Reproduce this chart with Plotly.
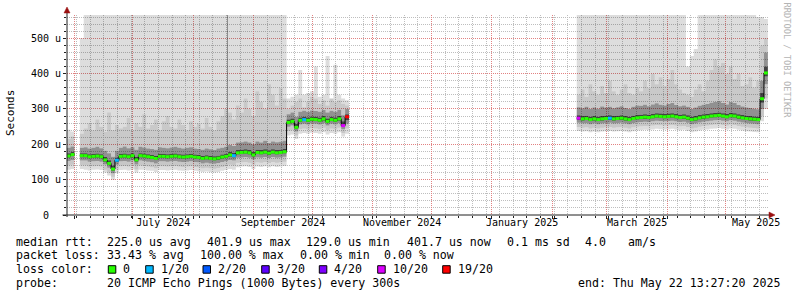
import plotly.graph_objects as go
import pandas as pd

MONO = "DejaVu Sans Mono"

# ---------------- data ----------------
# time axis window (12h RRA, 360 days)
X_START = "2024-05-28 04:00"
X_END = "2025-05-22 13:27:20"
STEP = "2D"
segment_starts = ["2024-05-28 00:00", "2024-06-03 18:00", "2025-02-13 12:00"]

# median rtt in microseconds (None separates data segments)
median = [167, 171, None,
          168, 168, 165, 166, 167, 165, 156, 146, 130, 155, 166, 167, 165, 168, 156, 168, 167, 165, 163, 160,
          166, 166, 165, 166, 167, 165, 164, 165, 166, 164, 163, 160, 162, 160, 159, 161, 164, 166, 170, 168,
          176, 177, 178, 176, 170, 177, 176, 178, 175, 178, 176, 177, 179, 262, 265, 248, 268, 270, 268, 271,
          270, 268, 272, 265, 270, 268, 272, 253, 278, None,
          274, 272, 273, 270, 272, 270, 272, 273, 274, 272, 273, 274, 272, 270, 273, 275, 276, 277, 276, 278,
          280, 279, 278, 279, 280, 278, 276, 277, 274, 270, 272, 275, 277, 278, 280, 281, 282, 280, 278, 281,
          280, 277, 275, 273, 272, 271, 270, 329, 402]

# lost pings out of 20
loss = [0, 0, None,
        0, 0, 0, 0, 0, 0, 0, 0, 0, 1, 0, 0, 0, 0, 0, 0, 0, 0, 0, 0,
        0, 0, 0, 0, 0, 0, 0, 0, 0, 0, 0, 0, 0, 0, 0, 0, 0, 0, 0, 1,
        0, 0, 0, 0, 0, 0, 0, 0, 0, 0, 0, 0, 0, 0, 0, 0, 0, 1, 0, 0,
        0, 0, 0, 0, 0, 0, 0, 10, 19, None,
        10, 0, 0, 0, 0, 0, 0, 0, 1, 0, 0, 0, 0, 0, 0, 0, 0, 0, 0, 0,
        0, 0, 0, 0, 0, 0, 0, 0, 0, 0, 0, 0, 0, 0, 0, 0, 0, 0, 0, 0,
        0, 0, 0, 0, 0, 0, 0, 0, 0]

# smoke: sorted ping rtts (microseconds)
ping_01 = [128, 130, None,
           130, 128, 126, 128, 129, 127, 120, 112, 100, 118, 127, 128, 126, 129, 120, 128, 128, 126, 125, 122,
           127, 127, 126, 127, 128, 126, 125, 126, 127, 125, 124, 122, 123, 121, 120, 122, 125, 127, 130, 128,
           135, 137, 138, 136, 130, 137, 136, 138, 135, 138, 136, 137, 139, 225, 228, 215, 230, 232, 230, 233,
           232, 230, 234, 228, 232, 230, 234, 222, 230, None,
           238, 236, 237, 234, 236, 234, 236, 237, 238, 236, 237, 238, 236, 234, 237, 239, 240, 241, 240, 242,
           244, 243, 242, 243, 244, 242, 240, 241, 238, 234, 236, 239, 241, 242, 244, 245, 246, 244, 242, 245,
           244, 241, 239, 237, 236, 235, 234, 265, 300]
ping_02 = [140, 142, None,
           140, 140, 137, 138, 139, 137, 128, 120, 108, 128, 138, 139, 137, 140, 129, 140, 139, 137, 135, 132,
           138, 138, 137, 138, 139, 137, 136, 137, 138, 136, 135, 132, 134, 132, 131, 133, 136, 138, 142, 140,
           148, 149, 150, 148, 142, 149, 148, 150, 147, 150, 148, 149, 151, 238, 240, 225, 243, 245, 243, 246,
           245, 243, 247, 240, 245, 243, 247, 232, 245, None,
           249, 247, 248, 245, 247, 245, 247, 248, 249, 247, 248, 249, 247, 245, 248, 250, 251, 252, 251, 253,
           255, 254, 253, 254, 255, 253, 251, 252, 249, 245, 247, 250, 252, 253, 255, 256, 257, 255, 253, 256,
           255, 252, 250, 248, 247, 246, 245, 280, 330]
ping_05 = [153, 156, None,
           154, 154, 151, 152, 153, 151, 143, 134, 118, 142, 152, 153, 151, 154, 143, 154, 153, 151, 149, 146,
           152, 152, 151, 152, 153, 151, 150, 151, 152, 150, 149, 146, 148, 146, 145, 147, 150, 152, 156, 154,
           162, 163, 164, 162, 157, 163, 162, 164, 161, 164, 162, 163, 165, 250, 253, 236, 256, 258, 256, 259,
           258, 256, 260, 253, 258, 256, 260, 243, 258, None,
           261, 259, 260, 257, 259, 257, 259, 260, 261, 259, 260, 261, 259, 257, 260, 262, 263, 264, 263, 265,
           267, 266, 265, 266, 267, 265, 263, 264, 261, 257, 259, 262, 264, 265, 267, 268, 269, 267, 265, 268,
           267, 264, 262, 260, 259, 258, 257, 300, 370]
ping_08 = [162, 166, None,
           163, 163, 160, 161, 162, 160, 151, 141, 125, 150, 161, 162, 160, 163, 151, 163, 162, 160, 158, 155,
           161, 161, 160, 161, 162, 160, 159, 160, 161, 159, 158, 155, 157, 155, 154, 156, 159, 161, 165, 163,
           171, 172, 173, 171, 165, 172, 171, 173, 170, 173, 171, 172, 174, 257, 260, 243, 263, 265, 263, 266,
           265, 263, 267, 260, 265, 263, 267, 250, 268, None,
           269, 267, 268, 265, 267, 265, 267, 268, 269, 267, 268, 269, 267, 265, 268, 270, 271, 272, 271, 273,
           275, 274, 273, 274, 275, 273, 271, 272, 269, 265, 267, 270, 272, 273, 275, 276, 277, 275, 273, 276,
           275, 272, 270, 268, 267, 266, 265, 318, 392]
ping_13 = [175, 179, None,
           175, 175, 172, 173, 174, 172, 164, 155, 140, 163, 173, 174, 172, 175, 164, 175, 174, 172, 170, 167,
           173, 173, 172, 173, 174, 172, 171, 172, 173, 171, 170, 167, 169, 167, 166, 168, 171, 173, 178, 176,
           184, 185, 186, 184, 178, 185, 184, 186, 183, 186, 184, 185, 187, 270, 273, 258, 276, 278, 276, 279,
           278, 276, 280, 273, 278, 276, 280, 265, 285, None,
           282, 280, 281, 278, 280, 278, 280, 281, 282, 280, 281, 282, 280, 278, 281, 283, 284, 285, 284, 286,
           288, 287, 286, 287, 288, 286, 284, 285, 282, 278, 280, 283, 285, 286, 288, 289, 290, 288, 286, 289,
           288, 285, 283, 281, 280, 279, 278, 345, 420]
ping_16 = [190, 194, None,
           190, 192, 188, 190, 193, 189, 182, 175, 165, 182, 190, 194, 189, 192, 185, 193, 191, 188, 187, 185,
           192, 190, 189, 191, 193, 190, 188, 190, 192, 188, 187, 185, 188, 186, 184, 188, 190, 193, 198, 195,
           205, 206, 208, 205, 200, 208, 205, 210, 204, 208, 206, 207, 210, 285, 290, 278, 292, 295, 292, 296,
           294, 292, 297, 290, 295, 292, 298, 282, 300, None,
           305, 302, 306, 300, 304, 301, 307, 304, 306, 302, 305, 308, 303, 300, 306, 310, 309, 312, 308, 313,
           316, 312, 310, 314, 317, 311, 308, 310, 306, 300, 304, 309, 312, 314, 318, 320, 322, 317, 313, 320,
           317, 311, 307, 304, 303, 301, 299, 380, 460]
ping_19 = [215, 222, None,
           230, 245, 260, 240, 270, 250, 235, 290, 240, 255, 245, 250, 275, 240, 260, 250, 285, 245, 255, 270,
           240, 265, 280, 250, 245, 270, 255, 240, 265, 250, 260, 245, 275, 250, 240, 265, 280, 300, 290, 270,
           310, 290, 330, 300, 280, 350, 320, 300, 370, 340, 310, 360, 330, 300, 310, 320, 330, 305, 320, 335,
           330, 315, 325, 310, 330, 320, 325, 315, 310, None,
           340, 355, 335, 370, 350, 340, 365, 345, 380, 350, 340, 355, 370, 345, 340, 360, 350, 380, 360, 400,
           370, 390, 365, 385, 410, 370, 355, 345, 340, 335, 355, 370, 350, 380, 410, 440, 420, 430, 400, 420,
           385, 400, 365, 370, 390, 360, 380, 480, 500]
ping_20 = [241, 236, None,
           500] + [600] * 52 + [330, 335, 340, 410, 340, 345, 350, 420, 335, 340, 450, 330, 425, 340, 330, 325, None] + \
          [600] * 28 + [420, 450, 470] + [600] * 15 + [560, 560, 555]

# single 12h sample with a very wide spread
spike_time = ["2024-08-18 12:00"]
spike_low = [185]
spike_high = [600]

# axis labels
y_ticks = [0, 100, 200, 300, 400, 500]
y_labels = ["0\u00a0\u00a0", "100 u", "200 u", "300 u", "400 u", "500 u"]
month_label_dates = ["2024-07-16 12:00", "2024-09-16 00:00", "2024-11-16 00:00",
                     "2025-01-16 12:00", "2025-03-16 12:00", "2025-05-16 12:00"]
month_labels = ["July 2024", "September 2024", "November 2024", "January 2025", "March 2025", "May 2025"]

loss_levels = [0, 1, 2, 3, 4, 10, 19]
loss_names = ["0", "1/20", "2/20", "3/20", "4/20", "10/20", "19/20"]
loss_colors = ["#26ff00", "#00b8ff", "#0059ff", "#5e00ff", "#7e00ff", "#dd00ff", "#ff0000"]

# ---------------- helpers ----------------
def split(vals):
    segs, cur = [], []
    for v in vals:
        if v is None:
            segs.append(cur)
            cur = []
        else:
            cur.append(v)
    segs.append(cur)
    return segs


def loss_color(c):
    col = loss_colors[0]
    for lv, cc in zip(loss_levels, loss_colors):
        if c >= lv:
            col = cc
    return col


levels = [ping_01, ping_02, ping_05, ping_08, ping_13, ping_16, ping_19, ping_20]
band_colors = ["rgba(0,0,0,0.133)", "rgba(0,0,0,0.22)", "rgba(0,0,0,0.43)", "rgba(0,0,0,0.74)",
               "rgba(0,0,0,0.43)", "rgba(0,0,0,0.21)", "rgba(0,0,0,0.133)"]

fig = go.Figure()

level_segs = [split(l) for l in levels]
med_segs = split(median)
loss_segs = split(loss)

for s, start in enumerate(segment_starts):
    n = len(med_segs[s])
    dates = pd.date_range(start, periods=n + 1, freq=STEP)
    for k, lv in enumerate(level_segs):
        vals = lv[s] + [lv[s][-1]]
        tr = dict(x=dates, y=vals, mode="lines", line=dict(width=0, shape="hv"),
                  hoverinfo="skip", showlegend=False)
        if k > 0:
            tr.update(fill="tonexty", fillcolor=band_colors[k - 1])
        fig.add_trace(go.Scatter(**tr))

# wide-spread sample
fig.add_trace(go.Bar(x=pd.to_datetime(spike_time), y=[h - l for h, l in zip(spike_high, spike_low)],
                     base=spike_low, width=16 * 3600 * 1000,
                     marker=dict(color="rgba(0,0,0,0.36)", line=dict(width=0)),
                     hoverinfo="skip", showlegend=False))

# median: black step line + loss coloured bands
for s, start in enumerate(segment_starts):
    n = len(med_segs[s])
    dates = pd.date_range(start, periods=n + 1, freq=STEP)
    vals = med_segs[s]
    fig.add_trace(go.Scatter(x=dates, y=vals + [vals[-1]], mode="lines",
                             line=dict(color="#000000", width=1, shape="hv"),
                             hoverinfo="skip", showlegend=False))
    by_col = {}
    for i in range(n):
        col = loss_color(loss_segs[s][i])
        xs, ys = by_col.setdefault(col, ([], []))
        xs += [dates[i], dates[i + 1], None]
        ys += [vals[i], vals[i], None]
    for col, (xs, ys) in by_col.items():
        fig.add_trace(go.Scatter(x=xs, y=ys, mode="lines", line=dict(color=col, width=3),
                                 hoverinfo="skip", showlegend=False))

# invisible trace to carry the label axis
fig.add_trace(go.Scatter(x=[X_START, X_END], y=[None, None], xaxis="x2", mode="lines",
                         hoverinfo="skip", showlegend=False))

# ---------------- layout ----------------
L, R, T, B = 67, 29, 15, 82
W, H = 797, 297
PW, PH = W - L - R, H - T - B


def px(x):
    return (x - L) / PW


def py(y):
    return (T + PH - y) / PH


MAJOR = "rgb(226,130,130)"
MINOR = "rgb(190,190,190)"

month_starts = pd.date_range("2024-06-01", "2025-05-01", freq="MS")
weeks = [d for d in pd.date_range("2024-06-02", "2025-05-22", freq="7D") if d.day != 1]
minor_y = [v for v in range(20, 566, 20) if v % 100]

annotations = []


def txt(x, y, s, size=11.6, color="#000000", angle=0, xanchor="left"):
    annotations.append(dict(xref="paper", yref="paper", x=px(x), y=py(y), text=s.replace(" ", "\u00a0"),
                            showarrow=False, xanchor=xanchor, yanchor="middle", textangle=angle,
                            borderpad=0, font=dict(family=MONO, size=size, color=color)))


r1, r2, r3, r4 = 241.7, 255.3, 269.3, 283.3
txt(15, r1, "median rtt:")
for x, s in [(106.3, "225.0 us avg"), (205.7, "401.9 us max"), (304.7, "129.0 us min"),
             (406.3, "401.7 us now"), (506.3, "0.1 ms sd"), (584, "4.0"), (627.3, "am/s")]:
    txt(x, r1, s)
txt(15, r2, "packet loss:")
for x, s in [(106.3, "33.43 % avg"), (199, "100.00 % max"), (299, "0.00 % min"), (382.5, "0.00 % now")]:
    txt(x, r2, s)
txt(15, r3, "loss color:")
box_x = [108.3, 145.7, 203, 261.7, 319.3, 377.7, 442.7]
shapes = []
for bx, name, col in zip(box_x, loss_names, loss_colors):
    shapes.append(dict(type="rect", xref="paper", yref="paper", x0=px(bx), x1=px(bx + 7.5),
                       y0=py(273.2), y1=py(265.7), fillcolor=col, line=dict(color="#000000", width=1)))
    txt(bx + 14, r3, name)
txt(15, r4, "probe:")
txt(106.3, r4, "20 ICMP Echo Pings (1000 Bytes) every 300s")
txt(577.3, r4, "end: Thu May 22 13:27:20 2025")

txt(10.5, 113.5, "Seconds", size=11, angle=-90, xanchor="center")
txt(786.5, 60, "RRDTOOL / TOBI OETIKER", size=8.7, color="#b4b4b4", angle=90, xanchor="center")

# axes lines and arrows
AX = "#202020"
ARROW = "#9a1010"
shapes += [
    dict(type="line", xref="paper", yref="paper", x0=px(62.5), x1=px(770), y0=py(215), y1=py(215),
         line=dict(color=AX, width=1)),
    dict(type="line", xref="paper", yref="paper", x0=px(67), x1=px(67), y0=py(217), y1=py(12),
         line=dict(color=AX, width=1)),
    dict(type="path", xref="paper", yref="paper",
         path=f"M {px(769)} {py(212)} L {px(775)} {py(215)} L {px(769)} {py(218)} Z",
         fillcolor=ARROW, line=dict(color=ARROW, width=0.5)),
    dict(type="path", xref="paper", yref="paper",
         path=f"M {px(64)} {py(13)} L {px(67)} {py(7)} L {px(70)} {py(13)} Z",
         fillcolor=ARROW, line=dict(color=ARROW, width=0.5)),
]

fig.update_layout(
    width=W, height=H,
    margin=dict(l=L, r=R, t=T, b=B, pad=0),
    paper_bgcolor="#ffffff", plot_bgcolor="#ffffff",
    showlegend=False, bargap=0,
    xaxis=dict(type="date", range=[X_START, X_END], tickmode="array", tickvals=month_starts,
               showticklabels=False, ticks="outside", ticklen=3, tickcolor=AX,
               showgrid=True, gridcolor=MAJOR, griddash="1px,1px", gridwidth=1,
               minor=dict(tickmode="array", tickvals=weeks, showgrid=True, gridcolor=MINOR,
                          griddash="1px,1px", gridwidth=1, ticks="outside", ticklen=2, tickcolor=AX),
               zeroline=False, showline=False, fixedrange=True),
    xaxis2=dict(type="date", overlaying="x", anchor="y", side="bottom", range=[X_START, X_END],
                tickmode="array", tickvals=pd.to_datetime(month_label_dates), ticktext=month_labels,
                ticks="", showgrid=False, zeroline=False, showline=False,
                tickfont=dict(family=MONO, size=10, color="#000000"), fixedrange=True),
    yaxis=dict(range=[0, 566], tickmode="array", tickvals=y_ticks, ticktext=y_labels,
               ticks="outside", ticklen=3, tickcolor=AX,
               showgrid=True, gridcolor=MAJOR, griddash="1px,1px", gridwidth=1,
               minor=dict(tickmode="array", tickvals=minor_y, showgrid=True, gridcolor=MINOR,
                          griddash="1px,1px", gridwidth=1, ticks="outside", ticklen=2, tickcolor=AX),
               zeroline=False, showline=False, fixedrange=True,
               tickfont=dict(family=MONO, size=10, color="#000000")),
    annotations=annotations,
    shapes=shapes,
)

fig.write_html("out.html")
